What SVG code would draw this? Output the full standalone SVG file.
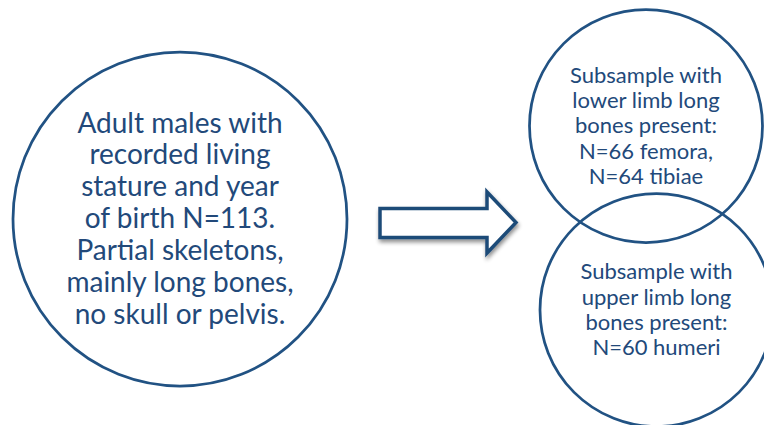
<svg xmlns="http://www.w3.org/2000/svg" width="764" height="425" viewBox="0 0 764 425">
<style>
.c{fill:none;stroke:#215283;stroke-width:2.75}
.t{font-family:Lato,"Open Sans",sans-serif;fill:#22497a;text-anchor:middle}
.big{font-size:28px}
.sm{font-size:22px}
.arrow{fill:#ffffff;stroke:#1f4b78;stroke-width:3.5;stroke-linejoin:miter}
</style>
<defs>
<filter id="sh" x="-20%" y="-20%" width="140%" height="160%">
<feGaussianBlur in="SourceAlpha" stdDeviation="2"/>
<feOffset dx="1" dy="3" result="b"/>
<feComponentTransfer><feFuncA type="linear" slope="0.45"/></feComponentTransfer>
<feMerge><feMergeNode/><feMergeNode in="SourceGraphic"/></feMerge>
</filter>
</defs>
<rect width="764" height="425" fill="#ffffff"/>
<g id="node-all">
<circle class="c" cx="180" cy="219" r="167"/>
<text class="t big" x="180" y="132.7">Adult males with</text>
<text class="t big" x="180" y="164.3">recorded living</text>
<text class="t big" x="180" y="196.3">stature and year</text>
<text class="t big" x="180" y="228.3">of birth N=113.</text>
<text class="t big" x="180" y="260.3">Partial skeletons,</text>
<text class="t big" x="180" y="292.3">mainly long bones,</text>
<text class="t big" x="180" y="324.3">no skull or pelvis.</text>
</g>
<g id="connectors">
<path class="arrow" filter="url(#sh)" d="M380 208.5 H487 V192 L516 222.5 L487 253 V237.5 H380 Z"/>
</g>
<g id="node-lower">
<circle class="c" cx="646" cy="126" r="116.5"/>
<text class="t sm" x="646" y="82.7">Subsample with</text>
<text class="t sm" x="646" y="108">lower limb long</text>
<text class="t sm" x="646" y="133.3">bones present:</text>
<text class="t sm" x="646" y="158.6">N=66 femora,</text>
<text class="t sm" x="646" y="184">N=64 tibiae</text>
</g>
<g id="node-upper">
<circle class="c" cx="656.5" cy="310" r="116.5"/>
<text class="t sm" x="656.5" y="279.3">Subsample with</text>
<text class="t sm" x="656.5" y="304.6">upper limb long</text>
<text class="t sm" x="656.5" y="330">bones present:</text>
<text class="t sm" x="656.5" y="355.3">N=60 humeri</text>
</g>
</svg>
